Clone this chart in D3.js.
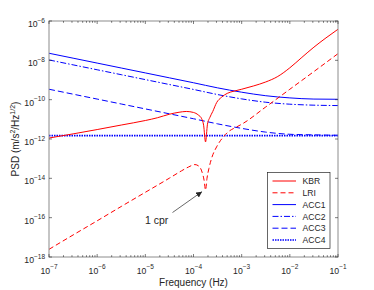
<!DOCTYPE html>
<html lang="en">
<head>
<meta charset="utf-8">
<title>PSD</title>
<script src="https://cdn.jsdelivr.net/npm/d3@7"></script>
<style>
  body { margin: 0; background: #ffffff; }
  text { font-family: "Liberation Sans", Arial, Helvetica, sans-serif; fill: #262626; }
</style>
</head>
<body>
<div id="container"></div>
<script>
// values, stored as log10 (frequency in Hz, PSD in m/s^2/Hz^1/2)
var accFreqExp = [-7, -6.5, -6, -5.5, -5, -4.5, -4, -3.5, -3, -2.5, -2, -1.5, -1];
var acc1Exp = [-7.64, -7.89, -8.14, -8.39, -8.64, -8.89, -9.14, -9.40, -9.62, -9.80, -9.91, -9.97, -9.98];
var acc2Exp = [-7.98, -8.23, -8.48, -8.73, -8.98, -9.23, -9.48, -9.74, -9.96, -10.13, -10.23, -10.28, -10.30];
var acc3Exp = [-9.47, -9.72, -9.97, -10.22, -10.47, -10.72, -10.97, -11.23, -11.46, -11.65, -11.76, -11.79, -11.81];
var acc4Exp = [-11.83, -11.83, -11.83, -11.83, -11.83, -11.83, -11.83, -11.83, -11.83, -11.83, -11.83, -11.83, -11.83];

var kbrFreqExp = [-7, -6.5, -6, -5.5, -5, -4.75, -4.5, -4.3, -4.15, -4.0, -3.9, -3.83, -3.79, -3.75,
                  -3.71, -3.66, -3.6, -3.52, -3.42, -3.3, -3.15, -3.0, -2.75, -2.5, -2.25, -2.0,
                  -1.75, -1.5, -1.25, -1.0];
var kbrExp = [-11.95, -11.74, -11.52, -11.29, -11.06, -10.92, -10.74, -10.64, -10.60, -10.65, -10.78, -10.97, -11.30, -12.15,
              -11.25, -10.90, -10.60, -10.15, -9.88, -9.68, -9.56, -9.47, -9.30, -9.10, -8.82, -8.38,
              -7.85, -7.33, -6.86, -6.42];

var lriFreqExp = [-7, -6.5, -6, -5.5, -5, -4.5, -4.25, -4.1, -3.97, -3.88, -3.82, -3.78, -3.75,
                  -3.72, -3.68, -3.62, -3.52, -3.4, -3.3, -3.1, -3.0, -2.5, -2.0, -1.5, -1.0];
var lriExp = [-17.61, -16.88, -16.16, -15.43, -14.71, -13.99, -13.62, -13.42, -13.30, -13.40, -13.70, -14.10, -14.60,
              -14.00, -13.50, -12.95, -12.40, -11.95, -11.68, -11.38, -11.25, -10.37, -9.47, -8.57, -7.66];

var seriesNames = ["KBR", "LRI", "ACC1", "ACC2", "ACC3", "ACC4"];
var xTickExp = [-7, -6, -5, -4, -3, -2, -1];
var yTickExp = [-6, -8, -10, -12, -14, -16, -18];

// ---------------- layout ----------------
var width = 374, height = 290;
var plotL = 49, plotR = 338, plotT = 21, plotB = 257;
var axisColor = "#262626";

var svg = d3.select("#container").append("svg")
    .attr("width", width)
    .attr("height", height);

var x = d3.scaleLog().domain([1e-7, 1e-1]).range([plotL, plotR]);
var y = d3.scaleLog().domain([1e-18, 1e-6]).range([plotB, plotT]);

function pairs(fe, pe) {
  return fe.map(function (f, i) { return [Math.pow(10, f), Math.pow(10, pe[i])]; });
}

var series = [
  {name: "KBR",  data: pairs(kbrFreqExp, kbrExp), color: "#ff0000", dash: null, w: 1},
  {name: "LRI",  data: pairs(lriFreqExp, lriExp), color: "#ff0000", dash: "5,3", w: 1},
  {name: "ACC1", data: pairs(accFreqExp, acc1Exp), color: "#0000ff", dash: null, w: 1},
  {name: "ACC2", data: pairs(accFreqExp, acc2Exp), color: "#0000ff", dash: "6,2,1.5,2", w: 1},
  {name: "ACC3", data: pairs(accFreqExp, acc3Exp), color: "#0000ff", dash: "6,3", w: 1},
  {name: "ACC4", data: pairs(accFreqExp, acc4Exp), color: "#0000ff", dash: "1.5,1", w: 1.6}
];

// clip
svg.append("clipPath").attr("id", "plotclip")
  .append("rect").attr("x", plotL).attr("y", plotT)
  .attr("width", plotR - plotL).attr("height", plotB - plotT);

// ---------------- curves ----------------
var line = d3.line()
    .x(function (d) { return x(d[0]); })
    .y(function (d) { return y(d[1]); })
    .curve(d3.curveMonotoneX);

var g = svg.append("g").attr("clip-path", "url(#plotclip)");
series.slice().reverse().forEach(function (s) {
  g.append("path")
    .attr("d", line(s.data))
    .attr("fill", "none")
    .attr("stroke", s.color)
    .attr("stroke-width", s.w)
    .attr("stroke-dasharray", s.dash);
});

// ---------------- axes box + ticks ----------------
svg.append("rect")
  .attr("x", plotL).attr("y", plotT)
  .attr("width", plotR - plotL).attr("height", plotB - plotT)
  .attr("fill", "none").attr("stroke", "#8c8c8c").attr("stroke-width", 1);

var xMinor = [];
xTickExp.slice(0, -1).forEach(function (e) {
  for (var k = 2; k <= 9; k++) xMinor.push(k * Math.pow(10, e));
});

var ticks = svg.append("g").attr("stroke", axisColor).attr("stroke-width", 0.6);
xTickExp.forEach(function (e) {
  var px = x(Math.pow(10, e));
  ticks.append("line").attr("x1", px).attr("x2", px).attr("y1", plotB).attr("y2", plotB - 3);
  ticks.append("line").attr("x1", px).attr("x2", px).attr("y1", plotT).attr("y2", plotT + 3);
});
xMinor.forEach(function (v) {
  var px = x(v);
  ticks.append("line").attr("x1", px).attr("x2", px).attr("y1", plotB).attr("y2", plotB - 1.8);
  ticks.append("line").attr("x1", px).attr("x2", px).attr("y1", plotT).attr("y2", plotT + 1.8);
});
yTickExp.forEach(function (e) {
  var py = y(Math.pow(10, e));
  ticks.append("line").attr("x1", plotL).attr("x2", plotL + 3).attr("y1", py).attr("y2", py);
  ticks.append("line").attr("x1", plotR).attr("x2", plotR - 3).attr("y1", py).attr("y2", py);
});

// tick labels with superscripts
function powLabel(sel, e) {
  sel.append("tspan").text("10");
  sel.append("tspan").attr("dy", -4.5).attr("font-size", "6.5px").text("\u2212" + Math.abs(e));
}
xTickExp.forEach(function (e) {
  var t = svg.append("text")
    .attr("x", x(Math.pow(10, e))).attr("y", 273.5)
    .attr("text-anchor", "middle").attr("font-size", "8.7px");
  powLabel(t, e);
});
yTickExp.forEach(function (e) {
  var t = svg.append("text")
    .attr("x", 45).attr("y", y(Math.pow(10, e)) + 6)
    .attr("text-anchor", "end").attr("font-size", "8.7px");
  powLabel(t, e);
});

// axis labels
svg.append("text")
  .attr("x", (plotL + plotR) / 2).attr("y", 286)
  .attr("text-anchor", "middle").attr("font-size", "10px")
  .text("Frequency (Hz)");

var yl = svg.append("text")
  .attr("transform", "translate(19," + ((plotT + plotB) / 2) + ") rotate(-90)")
  .attr("text-anchor", "middle").attr("font-size", "10px");
yl.append("tspan").text("PSD (m/s");
yl.append("tspan").attr("dy", -4).attr("font-size", "7px").text("2");
yl.append("tspan").attr("dy", 4).text("/Hz");
yl.append("tspan").attr("dy", -4).attr("font-size", "7px").text("1/2");
yl.append("tspan").attr("dy", 4).text(")");

// ---------------- annotation ----------------
svg.append("defs").append("marker")
  .attr("id", "arrowhead")
  .attr("viewBox", "0 0 10 10").attr("refX", 10).attr("refY", 5)
  .attr("markerWidth", 6).attr("markerHeight", 6).attr("orient", "auto")
  .attr("markerUnits", "userSpaceOnUse")
  .append("path").attr("d", "M0,0 L10,5 L0,10 z").attr("fill", axisColor);

svg.append("line")
  .attr("x1", 172.5).attr("y1", 212.5)
  .attr("x2", x(Math.pow(10, -3.75)) - 3.5).attr("y2", y(Math.pow(10, -14.6)) + 1.5)
  .attr("stroke", axisColor).attr("stroke-width", 0.7)
  .attr("marker-end", "url(#arrowhead)");

svg.append("text")
  .attr("x", 145).attr("y", 223.5)
  .attr("font-size", "10.5px")
  .text("1 cpr");

// ---------------- legend ----------------
var lg = svg.append("g");
lg.append("rect")
  .attr("x", 267.5).attr("y", 172.5).attr("width", 62.5).attr("height", 76)
  .attr("fill", "#ffffff").attr("stroke", axisColor).attr("stroke-width", 0.7);
series.forEach(function (s, i) {
  var ly = 181 + i * 11.8;
  lg.append("line")
    .attr("x1", 272.5).attr("x2", 296).attr("y1", ly).attr("y2", ly)
    .attr("stroke", s.color).attr("stroke-width", s.w)
    .attr("stroke-dasharray", s.dash);
  lg.append("text")
    .attr("x", 302.5).attr("y", ly + 3.2)
    .attr("font-size", "8.6px")
    .text(seriesNames[i]);
});
</script>
</body>
</html>
